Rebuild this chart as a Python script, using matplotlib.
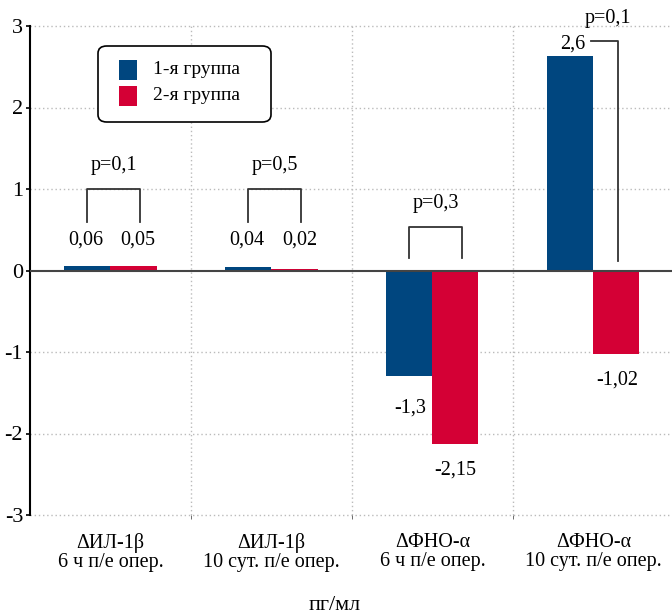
import matplotlib
matplotlib.use("Agg")
import matplotlib.pyplot as plt
from matplotlib.patches import FancyBboxPatch, Rectangle

plt.rcParams['font.family'] = ['Liberation Serif', 'DejaVu Serif']

categories = ["ΔИЛ-1β\n6 ч п/е опер.", "ΔИЛ-1β\n10 сут. п/е опер.",
              "ΔФНО-α\n6 ч п/е опер.", "ΔФНО-α\n10 сут. п/е опер."]
group1 = [0.06, 0.04, -1.29, 2.63]
group2 = [0.06, 0.02, -2.13, -1.02]
labels1 = ["0,06", "0,04", "-1,3", "2,6"]
labels2 = ["0,05", "0,02", "-2,15", "-1,02"]
pvals = ["p=0,1", "p=0,5", "p=0,3", "p=0,1"]
series_names = ["1-я группа", "2-я группа"]
yticks = [-3, -2, -1, 0, 1, 2, 3]
unit = "пг/мл"

c1 = "#00467F"
c2 = "#D40035"
colors = [c1, c2]

W, H = 672, 615
fig = plt.figure(figsize=(W/100, H/100), dpi=100)
ax = fig.add_axes([30/W, 100/H, 642/W, 489/H])

w = 0.286
x = list(range(len(categories)))
ax.bar([i - w/2 for i in x], group1, width=w, color=c1, zorder=2)
ax.bar([i + w/2 for i in x], group2, width=w, color=c2, zorder=2)

ax.set_xlim(-0.5, 3.488)
ax.set_ylim(-3, 3)
ax.set_yticks(yticks)
ax.set_yticklabels([str(t) for t in yticks], fontsize=16)
ax.set_xticks(x)
ax.set_xticklabels(categories, fontsize=14.5, linespacing=1.02)
ax.tick_params(axis='x', which='major', length=0, pad=13)
ax.set_xticks([0.5, 1.5, 2.5], minor=True)
ax.tick_params(axis='x', which='minor', length=3, color='#555555')
ax.tick_params(axis='y', length=3, width=1.2, pad=2)

for s in ['top', 'right', 'bottom']:
    ax.spines[s].set_visible(False)
ax.spines['left'].set_linewidth(1.5)
ax.spines['left'].set_color('black')

for yv in [-3, -2, -1, 1, 2, 3]:
    ax.axhline(yv, color='#bbbbbb', lw=1, ls=(0, (1, 2)), zorder=0, clip_on=False)
for xv in [0.5, 1.5, 2.5]:
    ax.axvline(xv, color='#bbbbbb', lw=1, ls=(0, (1, 2)), zorder=0)
ax.axhline(0, color='#444444', lw=1.5, zorder=3)

fs = 14.5
# value labels
val_pos1 = [(0 - 0.155, 0.37), (1 - 0.155, 0.37), (2 - 0.14, -1.69), (3 - 0.13, 2.78)]
val_pos2 = [(0 + 0.17, 0.37), (1 + 0.175, 0.37), (2 + 0.14, -2.45), (3 + 0.15, -1.35)]
for (px, py), t in zip(val_pos1, labels1):
    ax.text(px, py, t, ha='center', va='center', fontsize=fs)
for (px, py), t in zip(val_pos2, labels2):
    ax.text(px, py, t, ha='center', va='center', fontsize=fs)

# brackets
bk = dict(color='#333333', lw=1.3)
for i, (top, bot) in enumerate([(1.0, 0.6), (1.0, 0.6), (0.53, 0.15)]):
    xl, xr = i - 0.145, i + 0.185
    ax.plot([xl, xl, xr, xr], [bot, top, top, bot], **bk)
    ax.text(i + 0.02, top + 0.29, pvals[i], ha='center', va='center', fontsize=fs)
# last group bracket
ax.plot([3 - 0.015, 3 + 0.15, 3 + 0.15], [2.81, 2.81, 0.12], **bk)
ax.text(3 + 0.09, 3.09, pvals[3], ha='center', va='center', fontsize=fs, clip_on=False)

# legend (drawn manually in figure pixel coordinates)
def fx(px):
    return px / W
def fy(py):
    return 1 - py / H

box = FancyBboxPatch((fx(98), fy(122)), fx(271) - fx(98), fy(46) - fy(122),
                     boxstyle="round,pad=0,rounding_size=0.013",
                     transform=fig.transFigure, facecolor='white', edgecolor='black',
                     lw=1.2, zorder=10, mutation_aspect=H/W)
fig.add_artist(box)
for k, (name, col) in enumerate(zip(series_names, colors)):
    top = 60 + k * 26
    fig.add_artist(Rectangle((fx(119), fy(top + 20)), fx(137) - fx(119), fy(top) - fy(top + 20),
                             transform=fig.transFigure, facecolor=col, edgecolor='none', zorder=11))
    fig.text(fx(153), fy(top + 10), name, ha='left', va='center', fontsize=14, zorder=12)

fig.text(335/W, 1 - 606/H, unit, ha='center', va='center', fontsize=16)

fig.savefig("out.png", dpi=100)
